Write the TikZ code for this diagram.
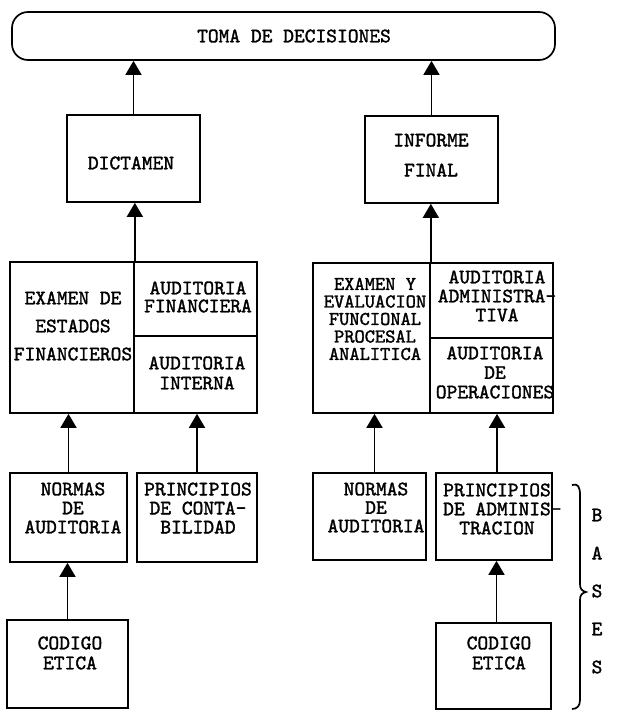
\documentclass[tikz,border=0pt]{standalone}
\usepackage{fontspec}
\usetikzlibrary{arrows.meta}
% typewriter face with heavier strokes
\newfontfamily\twfont{lmmono10-regular.otf}[FakeBold=1.6]
\begin{document}
\begin{tikzpicture}[x=1pt,y=-1pt,
  line width=1.7pt,
  box/.style={draw, rectangle, inner sep=0pt, line width=1.7pt},
  lbl/.style={inner sep=0pt, align=center,
    font=\twfont\fontsize{20.5}{#1}\selectfont},
  lbl/.default=19,
  up/.style={-{Triangle[length=14pt,width=16pt]}, line width=1.7pt},
]
\useasboundingbox (0,0) rectangle (619,713);

% ---- top: decision making ----
\node[box, rounded corners=16pt, minimum width=543pt, minimum height=48pt] (top) at (283.5,36) {};
\node[lbl] (t-top) at (294,36) {TOMA DE DECISIONES};

% ---- reports ----
\node[box, minimum width=133pt, minimum height=87pt] (dict) at (133.5,158.5) {};
\node[lbl] (t-dict) at (131,163) {DICTAMEN};
\node[box, minimum width=133pt, minimum height=87pt] (inf) at (431.5,159.5) {};
\node[lbl=30] (t-inf) at (431,155) {INFORME\\FINAL};

% ---- financial audit block ----
\node[box, minimum width=124pt, minimum height=151pt] (exl) at (72,337.5) {};
\node[box, minimum width=123pt, minimum height=74pt] (afin) at (195.5,299) {};
\node[box, minimum width=123pt, minimum height=77pt] (aint) at (195.5,374.5) {};
\node[lbl=28] (t-exl) at (73,326) {EXAMEN DE\\ESTADOS\\FINANCIEROS};
\node[lbl=18] (t-afin) at (198,297) {AUDITORIA\\FINANCIERA};
\node[lbl=20] (t-aint) at (197,373) {AUDITORIA\\INTERNA};

% ---- administrative audit block ----
\node[box, minimum width=117pt, minimum height=150pt] (exr) at (371.5,338) {};
\node[box, minimum width=123pt, minimum height=75pt] (aadm) at (491.5,300.5) {};
\node[box, minimum width=123pt, minimum height=75pt] (aope) at (491.5,375.5) {};
\node[lbl=17.5, font=\twfont\fontsize{19.5}{17.5}\selectfont] (t-exr) at (375,319) {EXAMEN Y\\EVALUACION\\FUNCIONAL\\PROCESAL\\ANALITICA};
\node[lbl=19] (t-aadm) at (497,296) {AUDITORIA\\ADMINISTRA-\\TIVA};
\node[lbl=19.5] (t-aope) at (495,372.5) {AUDITORIA\\DE\\OPERACIONES};

% ---- bases ----
\node[box, minimum width=117pt, minimum height=89pt] (nl) at (68.5,517.5) {};
\node[lbl] (t-nl) at (73,508) {NORMAS\\DE\\AUDITORIA};
\node[box, minimum width=120pt, minimum height=89pt] (pc) at (197,517.5) {};
\node[lbl] (t-pc) at (198,508) {PRINCIPIOS\\DE CONTA-\\BILIDAD};
\node[box, minimum width=121pt, minimum height=88pt] (cl) at (67.5,664) {};
\node[lbl=20] (t-cl) at (70,653) {CODIGO\\ETICA};

\node[box, minimum width=113pt, minimum height=87pt] (nr) at (369.5,516.5) {};
\node[lbl=18.5] (t-nr) at (376,507.5) {NORMAS\\DE\\AUDITORIA};
\node[box, minimum width=116pt, minimum height=87pt] (pa) at (494,516.5) {};
\node[lbl] (t-pa) at (497,509) {PRINCIPIOS\\DE ADMINIS\rlap{-}\\TRACION};
\node[box, minimum width=115pt, minimum height=86pt] (cr) at (493.5,666) {};
\node[lbl=20] (t-cr) at (499,653) {CODIGO\\ETICA};

% ---- connectors ----
\draw[up] (dict.north) -- (dict.north |- top.south);
\draw[up] (inf.north) -- (inf.north |- top.south);
\draw[up] (exl.north east) -- (exl.north east |- dict.south);
\draw[up] (exr.north east) -- (exr.north east |- inf.south);
\draw[up] (nl.north) -- (nl.north |- exl.south);
\draw[up] (pc.north) -- (pc.north |- aint.south);
\draw[up] (cl.north) -- (cl.north |- nl.south);
\coordinate (nrN) at ([xshift=5pt]nr.north);
\draw[up] (nrN) -- (nrN |- exr.south);
\coordinate (paN) at ([xshift=3pt]pa.north);
\draw[up] (paN) -- (paN |- aope.south);
\coordinate (crN) at ([xshift=3pt]cr.north);
\draw[up] (crN) -- (crN |- pa.south);

% ---- brace and side label ----
\draw[line width=1.7pt] (572,485) .. controls (578,483) and (580,487) .. (580,495)
  -- (580,584) .. controls (580,589) and (582,591) .. (586,592)
  .. controls (582,593) and (580,595) .. (580,600)
  -- (580,700) .. controls (580,706) and (577,709) .. (572,709);
\node[lbl] (b1) at (597,515) {B};
\node[lbl] (b2) at (597,553) {A};
\node[lbl] (b3) at (597,591) {S};
\node[lbl] (b4) at (597,629) {E};
\node[lbl] (b5) at (597,667) {S};
\end{tikzpicture}
\end{document}
